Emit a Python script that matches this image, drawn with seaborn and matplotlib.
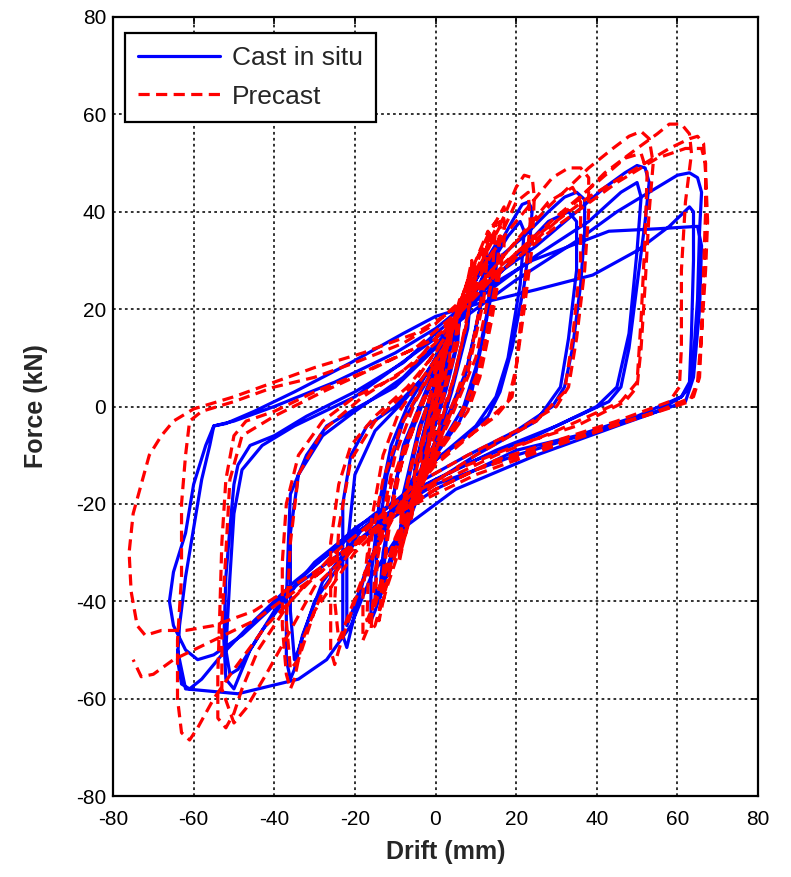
import matplotlib
matplotlib.use("Agg")
import matplotlib.pyplot as plt
import numpy as np
import pandas as pd
import seaborn as sns

# ---------------------------------------------------------------------------
# Hysteresis data: (drift in mm, force in kN), one list per amplitude stage
# ---------------------------------------------------------------------------
cast_small = [
    (0, 0), (1, 4), (2, 7), (1.5, 4), (0, 0), (-1, -4), (-2, -7), (-1.5, -4), (0, 0),
    (2, 7), (3.5, 11), (3, 7), (1, 1), (-1, -4), (-3.5, -11), (-3, -7), (-1, -1), (1, 5),
    (3, 10), (5, 15), (6, 18), (5, 12), (2, 3), (-1, -5), (-4, -14), (-6, -20), (-5, -13), (-2, -3), (1, 5),
    (4, 14), (6, 19), (5.5, 13), (2.5, 3), (-1, -6), (-5, -17), (-6, -20), (-5, -12), (-2, -2), (1, 6),
    (5, 16), (8, 23), (9, 26), (8, 18), (4, 4), (0, -7), (-5, -18), (-8, -27), (-9, -30), (-8, -20), (-4, -5), (0, 5),
    (6, 18), (9, 25), (8, 16), (4, 3), (0, -8), (-5, -20), (-9, -29), (-8, -18), (-4, -4), (1, 7),
    (7, 20), (11, 28), (12.5, 31), (12, 24), (8, 8), (3, -2), (-4, -14), (-10, -28), (-13, -37), (-14, -40),
    (-13, -30), (-9, -12), (-3, 1), (3, 12),
    (9, 24), (12, 30), (11, 20), (7, 5), (0, -8), (-8, -24), (-13, -36), (-12, -25), (-8, -8), (-2, 4), (5, 16),
]
cast_15 = [
    (10, 26), (14, 32), (15.5, 34), (15, 28), (12, 15), (9, 3), (6, -3), (0, -10), (-6, -20), (-11, -32),
    (-15, -42), (-16, -44), (-16, -35), (-14, -20), (-11, -8), (-7, 0), (-2, 7), (4, 16), (10, 27),
    (14, 31), (13, 20), (10, 8), (7, 0), (2, -7), (-5, -17), (-12, -33), (-15, -40), (-14.5, -28),
    (-12, -14), (-8, -3), (-3, 4), (3, 13), (8, 22),
]
cast_22 = [
    (10, 26), (15, 32), (19, 38), (21.5, 41.5), (23, 42), (24, 40.5), (23.5, 35), (22, 25), (19, 12), (16, 3),
    (13, -2), (5, -8), (-5, -14), (-13, -25), (-18, -36), (-21, -46), (-22, -49.5), (-23, -47), (-23, -35),
    (-23, -20), (-21, -10), (-17, -4), (-10, 0), (-3, 6), (5, 16), (12, 27),
    (18, 35), (21, 38), (22, 36), (21, 25), (18, 10), (15, 2), (10, -4), (0, -11), (-10, -20), (-17, -33),
    (-21, -43), (-22, -45), (-22, -30), (-20, -14), (-15, -5), (-8, 1), (0, 9), (8, 21),
]
cast_35 = [
    (15, 30), (22, 35), (28, 40), (32, 43), (35, 44), (37, 42.5), (37, 36), (36, 25), (34, 12), (32, 4), (29, 0),
    (20, -5), (8, -10), (-5, -16), (-18, -25), (-28, -36), (-33, -47), (-35, -54), (-36, -56), (-37, -52),
    (-37, -40), (-36.5, -28), (-36, -18), (-32, -10), (-27, -4), (-20, -0.5), (-10, 4), (0, 12), (10, 22), (20, 31),
    (28, 38), (33, 40), (35, 38), (35, 28), (33, 14), (31, 4), (25, -3), (10, -10), (-5, -18), (-20, -28),
    (-30, -40), (-34, -50), (-35, -52), (-36, -42), (-36, -26), (-34, -14), (-28, -6), (-20, -1), (-8, 6),
    (5, 17), (15, 27),
]
cast_50 = [
    (25, 33), (35, 40), (42, 45), (47, 48), (50, 49.5), (52, 49), (53, 46), (52, 38), (50, 25), (48, 12),
    (46, 4), (43, 1), (30, -4), (15, -9), (0, -15), (-15, -22), (-30, -32), (-40, -42), (-46, -50), (-49, -56),
    (-50, -58), (-52, -56), (-52.5, -48), (-52, -35), (-51, -25), (-50, -16), (-49, -12), (-46, -8), (-40, -6),
    (-32, -2), (-20, 3), (-8, 9), (0, 15), (12, 23), (25, 31), (38, 38),
    (46, 44), (50, 46), (51, 43), (50, 32), (48, 15), (45, 4), (40, 0), (25, -6), (10, -11), (-5, -17),
    (-20, -25), (-33, -35), (-43, -46), (-49, -54), (-51, -55), (-52, -50), (-51, -35), (-50, -22), (-48, -13),
    (-43, -8), (-35, -4), (-20, 2), (0, 14), (20, 26), (35, 34),
]
cast_63 = [
    (45, 40), (55, 45), (60, 47.5), (63, 48), (65, 47), (66, 44), (65.5, 36), (65, 22), (64, 10), (63, 4),
    (61, 2), (55, -1), (40, -5), (20, -10), (0, -16), (-20, -26), (-35, -36), (-45, -44), (-53, -51),
    (-58, -56), (-61, -58), (-63, -57), (-64, -52), (-63.5, -45), (-62, -35), (-60, -25), (-58, -15),
    (-56, -8), (-55, -4), (-52, -3.5), (-45, -1), (-35, 3), (-21, 9), (-8, 15), (0, 18.5), (10, 21),
    (25, 24), (39, 27), (50, 32), (58, 37), (63, 41),
    (64, 40), (64, 30), (63.5, 15), (63, 5), (61, 2), (50, -2), (35, -6), (20, -9), (0, -17), (-20, -28),
    (-35, -37), (-48, -47), (-55, -51), (-59, -52), (-62, -50), (-65, -45), (-66, -40), (-65, -34),
    (-62, -26), (-60, -16), (-57, -8), (-55, -4), (-50, -3), (-40, 0), (-25, 5), (-10, 11), (0, 16),
    (12, 24), (24, 30), (43, 36), (55, 36.5), (65, 37),
    (66, 33), (65.5, 20), (64, 6), (62, 1), (45, -4), (25, -10), (5, -17), (-8, -25), (-16, -35),
    (-21, -45), (-27, -52), (-34, -56), (-49, -59), (-62, -58), (-64, -50),
]

precast_small = [
    (0, 0), (1, 5), (2, 9), (1.5, 5), (0, 0), (-1, -5), (-2, -9), (-1.5, -5), (0, 0),
    (2, 9), (3, 13), (4, 16), (3.5, 10), (1, 2), (-1, -5), (-3, -13), (-4, -16), (-3.5, -9), (-1, -1), (1, 6),
    (3, 13), (5, 19), (6, 22), (5, 14), (2, 3), (-2, -8), (-5, -18), (-6, -23), (-5, -14), (-2, -3), (1, 7),
    (4, 15), (6, 21), (5.5, 13), (2, 2), (-2, -9), (-5.5, -20), (-6, -22), (-5, -12), (-1, 0), (2, 9),
    (5, 18), (8, 26), (9, 30), (8.5, 21), (5, 7), (1, -3), (-4, -15), (-8, -28), (-9, -32), (-8.5, -22),
    (-5, -8), (-1, 3), (3, 13),
    (6, 21), (9, 28), (8, 18), (4, 4), (0, -7), (-5, -19), (-9, -31), (-8, -20), (-4, -5), (0, 6), (4, 16),
    (8, 26), (11, 32), (13, 36), (12.5, 27), (9, 12), (5, 2), (0, -8), (-6, -20), (-11, -32), (-13, -40),
    (-14, -44), (-13, -34), (-10, -16), (-5, -3), (1, 9), (6, 20),
    (10, 30), (13, 34), (12, 22), (8, 7), (2, -5), (-6, -22), (-12, -37), (-13, -40), (-12, -26), (-8, -10),
    (-2, 3), (4, 16),
    (9, 28), (14, 37), (15, 38), (14, 26), (10, 10), (4, -2), (-4, -16), (-11, -33), (-15, -45), (-16, -46),
    (-15, -34), (-11, -16), (-5, -2), (2, 11), (8, 24),
]
precast_17 = [
    (11, 31), (15, 38), (17, 41), (17, 33), (14, 18), (11, 6), (8, -1), (2, -8), (-5, -18), (-12, -33),
    (-17, -46), (-18, -48), (-18, -38), (-16, -24), (-13, -10), (-9, -1), (-4, 5), (2, 12), (9, 26),
    (14, 35), (16, 38), (15.5, 28), (12, 12), (9, 2), (4, -5), (-3, -14), (-10, -28), (-16, -42), (-17, -44),
    (-16.5, -30), (-13, -15), (-8, -3), (-2, 6), (5, 17), (11, 29),
    (16, 37), (15, 24), (11, 8), (6, -2), (-2, -12), (-10, -27), (-15, -40), (-14, -26), (-10, -10),
    (-5, 1), (1, 10), (8, 23),
]
precast_22 = [
    (13, 33), (17, 39), (20, 45), (22, 47.5), (24, 47), (24.5, 43), (24, 33), (22, 20), (20, 8), (19, 2),
    (15, -2), (5, -8), (-5, -15), (-14, -27), (-20, -40), (-24, -50), (-25, -53), (-26, -50), (-26, -40),
    (-26, -28), (-24, -16), (-21, -8), (-15, -2), (-7, 4), (0, 11), (8, 22), (15, 33),
    (20, 42), (23, 44), (23.5, 38), (22, 24), (20, 8), (18, 1), (10, -5), (0, -12), (-10, -22), (-18, -35),
    (-23, -46), (-24, -48), (-25, -40), (-24, -25), (-21, -11), (-15, -3), (-6, 4), (3, 15), (11, 28),
]
precast_35 = [
    (18, 36), (25, 43), (29, 47), (33, 49), (36, 49), (38, 47), (38, 40), (37, 28), (35, 14), (33, 4), (30, 0),
    (20, -5), (8, -10), (-5, -16), (-18, -26), (-28, -38), (-33, -48), (-35, -56), (-36, -58), (-37, -55),
    (-38, -45), (-38, -32), (-37, -20), (-34, -10), (-28, -3), (-20, 2), (-10, 6), (0, 13), (10, 24), (20, 34),
    (28, 42), (34, 45), (36, 42), (36, 30), (34, 14), (32, 3), (25, -3), (10, -10), (-5, -18), (-20, -30),
    (-30, -42), (-34, -52), (-36, -54), (-37, -44), (-36, -28), (-34, -14), (-28, -5), (-18, 2), (-5, 9),
    (6, 20), (18, 32),
]
precast_50 = [
    (28, 41), (38, 49), (44, 53), (48, 55.5), (51, 56.5), (53, 55), (54, 50), (53, 40), (52, 25), (51, 12),
    (50, 4), (47, 1), (35, -4), (20, -8), (5, -13), (-10, -20), (-25, -30), (-36, -40), (-44, -50), (-48, -58),
    (-50, -63), (-52, -66), (-54, -64), (-54, -55), (-53.5, -42), (-53, -28), (-52, -15), (-50, -6), (-47, -3),
    (-40, -1), (-30, 3), (-18, 7), (-5, 12), (5, 19), (18, 30), (30, 39), (40, 46),
    (47, 51), (51, 52), (52.5, 48), (52, 35), (51, 18), (50, 5), (46, 1), (30, -5), (15, -10), (0, -16),
    (-15, -25), (-30, -37), (-42, -55), (-47, -62), (-50, -65), (-53, -58), (-53, -45), (-52, -30), (-51, -15),
    (-48, -6), (-40, -2), (-28, 3), (-15, 8), (0, 14), (15, 27), (30, 38),
]
precast_65 = [
    (42, 48), (50, 53), (55, 56), (58, 58), (61, 58), (63, 56), (63.5, 52), (62, 42), (61, 28), (61, 12),
    (60.5, 4), (58, 1), (45, -3), (30, -7), (15, -11), (0, -17), (-15, -25), (-30, -35), (-42, -45),
    (-50, -54), (-55, -60), (-59, -66), (-61, -68.5), (-63, -67), (-64, -60), (-64, -48), (-63, -35),
    (-63, -20), (-62, -10), (-61, -3), (-58, -1), (-50, 1), (-40, 4), (-30, 6), (-20, 9), (-8, 13), (0, 17),
    (12, 26), (25, 35), (38, 43), (50, 49), (58, 53), (63, 55), (65, 55.5), (66.5, 54), (67, 48), (67.5, 38),
    (67, 28), (66, 15), (65.5, 6), (64, 2), (55, -1), (40, -5), (25, -9), (10, -13), (0, -17), (-15, -25),
    (-30, -34), (-45, -42), (-55, -45), (-62, -46), (-68, -46), (-72, -47), (-74, -45), (-75.5, -38),
    (-76, -30), (-75, -22), (-73, -16), (-71, -10), (-68, -6), (-65, -3), (-60, -0.5), (-50, 2), (-40, 5),
    (-30, 8), (-18, 11), (-5, 15), (5, 20), (18, 29), (30, 37), (45, 46), (55, 51), (62, 53), (66, 53),
    (67, 50), (67, 40), (66.5, 28), (66, 15), (65, 5), (63, 1), (48, -3), (30, -8), (10, -14), (-10, -22),
    (-30, -35), (-45, -44), (-55, -48), (-65, -52), (-70, -55), (-73, -55.5), (-75, -52),
]

series_names = ["Cast in situ", "Precast"]
series_stages = {
    "Cast in situ": [cast_small, cast_15, cast_22, cast_35, cast_50, cast_63],
    "Precast": [precast_small, precast_17, precast_22, precast_35, precast_50, precast_65],
}
axis_ticks = [-80, -60, -40, -20, 0, 20, 40, 60, 80]

rows = []
for name in series_names:
    for stage in series_stages[name]:
        for d, f in stage:
            rows.append({"specimen": name, "drift": d, "force": f})
df = pd.DataFrame(rows)

# ---------------------------------------------------------------------------
# Figure
# ---------------------------------------------------------------------------
sns.set_style("white")
plt.rcParams["font.family"] = ["Liberation Sans", "DejaVu Sans"]
plt.rcParams["axes.unicode_minus"] = False

W, H = 791, 877
fig = plt.figure(figsize=(W / 100, H / 100), dpi=100)
ax = fig.add_axes([113 / W, 1 - 796 / H, 645 / W, 779 / H])

sns.lineplot(
    data=df, x="drift", y="force", hue="specimen", style="specimen",
    hue_order=series_names, style_order=series_names,
    palette={"Cast in situ": "#0000ff", "Precast": "#ff0000"},
    dashes={"Cast in situ": "", "Precast": (3.5, 2.0)},
    sort=False, estimator=None, linewidth=2.3, legend=False, ax=ax,
)

ax.set_xlim(-80, 80)
ax.set_ylim(-80, 80)
ax.set_xticks(axis_ticks)
ax.set_yticks(axis_ticks)

ax.set_axisbelow(True)
ax.grid(True, color="#222222", linestyle=(0, (1.5, 1.8)), linewidth=1.3)

for sp in ax.spines.values():
    sp.set_visible(True)
    sp.set_color("black")
    sp.set_linewidth(1.6)

ax.tick_params(axis="both", which="major", direction="in", length=5, width=1.2,
               top=True, right=True, labelsize=15, colors="black")
ax.tick_params(axis="x", pad=10)
ax.tick_params(axis="y", pad=5)

ax.set_xlabel("Drift (mm)", fontsize=18, fontweight="bold")
ax.set_ylabel("Force (kN)", fontsize=18, fontweight="bold")
ax.xaxis.set_label_coords(0.516, -0.056)
ax.yaxis.set_label_coords(-0.10, 0.5)

leg = ax.legend(
    ax.lines[:2], series_names, loc="upper left",
    bbox_to_anchor=(12 / 645, 1 - 16 / 779), borderaxespad=0,
    frameon=True, fancybox=False, framealpha=1, edgecolor="black",
    fontsize=19, handlelength=3.1, handletextpad=0.45,
    borderpad=0.5, labelspacing=0.55,
)
leg.get_frame().set_linewidth(1.6)

fig.savefig("out.png", dpi=100)
